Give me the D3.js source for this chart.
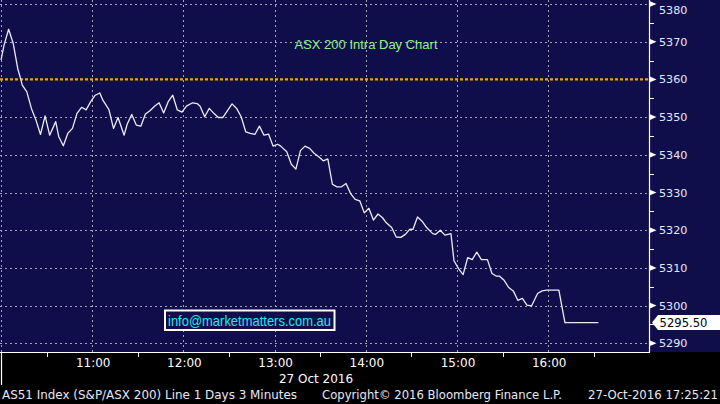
<!DOCTYPE html>
<html><head><meta charset="utf-8">
<script src="https://cdn.jsdelivr.net/npm/d3@7"></script>
<style>
html,body{margin:0;padding:0;background:#000;}
svg{display:block;}
</style></head>
<body>
<svg id="c" width="720" height="404"></svg>
<script>
const times = ["10:00","10:02","10:05","10:08","10:11","10:13","10:14","10:17","10:20","10:23","10:26","10:29","10:32","10:36","10:38","10:41","10:44","10:47","10:50","10:53","10:56","10:59","11:02","11:05","11:07","11:11","11:14","11:17","11:21","11:23","11:26","11:29","11:32","11:35","11:38","11:41","11:44","11:47","11:50","11:53","11:56","11:59","12:02","12:06","12:09","12:11","12:14","12:17","12:20","12:23","12:26","12:29","12:32","12:35","12:38","12:41","12:44","12:47","12:50","12:53","12:56","12:59","13:02","13:04","13:08","13:11","13:14","13:17","13:20","13:23","13:26","13:29","13:32","13:35","13:38","13:41","13:44","13:47","13:50","13:53","13:56","13:59","14:02","14:05","14:08","14:11","14:13","14:17","14:20","14:23","14:26","14:29","14:31","14:34","14:37","14:40","14:44","14:46","14:49","14:52","14:56","14:58","15:01","15:04","15:07","15:10","15:13","15:16","15:20","15:23","15:26","15:28","15:31","15:34","15:37","15:40","15:43","15:46","15:49","15:53","15:56","15:59","16:07","16:11","16:33"];
const values = [5365.1,5369.1,5373.3,5369.6,5362.9,5360.0,5358.5,5356.7,5352.3,5349.2,5345.4,5350.3,5345.2,5348.8,5344.8,5342.4,5345.7,5347.0,5351.0,5352.6,5351.9,5354.1,5355.8,5356.4,5354.5,5352.0,5347.0,5349.9,5345.2,5348.1,5350.7,5347.9,5347.6,5350.8,5351.7,5352.9,5353.8,5351.1,5354.1,5355.8,5351.9,5351.3,5352.9,5353.8,5353.6,5352.9,5350.1,5352.3,5351.0,5349.9,5349.9,5351.7,5353.5,5352.3,5350.1,5346.1,5345.7,5345.4,5347.6,5345.2,5345.5,5342.3,5342.8,5342.3,5340.8,5337.5,5336.2,5341.1,5342.3,5341.7,5340.4,5339.5,5338.4,5338.9,5332.2,5331.5,5331.5,5332.4,5329.7,5328.2,5327.8,5324.6,5325.8,5322.7,5324.3,5323.3,5322.2,5320.7,5318.2,5318.1,5318.9,5320.3,5320.2,5323.5,5322.4,5320.7,5319.1,5318.9,5320.0,5318.7,5319.1,5311.9,5309.8,5308.2,5312.7,5312.2,5314.2,5312.2,5312.2,5308.5,5307.8,5307.8,5306.7,5304.8,5303.9,5301.4,5301.9,5300.1,5299.9,5303.2,5303.9,5304.1,5304.1,5295.5,5295.5];
const yTicks = [5290,5300,5310,5320,5330,5340,5350,5360,5370,5380];
const xTickLabels = ["11:00","12:00","13:00","14:00","15:00","16:00"];
const refLevel = 5360;
const lastPrice = "5295.50";
const titleText = "ASX 200 Intra Day Chart";
const infoText = "info@marketmatters.com.au";
const dateLabel = "27 Oct 2016";
const footerLeft = "AS51 Index (S&P/ASX 200) Line 1 Days 3 Minutes";
const footerMid = "Copyright\u00A9 2016 Bloomberg Finance L.P.";
const footerRight = "27-Oct-2016 17:25:21";

const parse = d3.timeParse("%H:%M");
const data = times.map((t,i)=>({t:parse(t), v:values[i]}));

const svg = d3.select("#c");
const plotW = 649, plotH = 352;
const x = d3.scaleTime().domain([parse("10:00"), new Date(parse("10:00").getTime()+426.3*60000)]).range([1, 649]);
const y = d3.scaleLinear().domain([5290, 5380]).range([343.3, 4]);

svg.append("rect").attr("x",0).attr("y",0).attr("width",720).attr("height",404).attr("fill","#000");
svg.append("rect").attr("x",0).attr("y",0).attr("width",720).attr("height",plotH).attr("fill","#100e4a");

const grid = svg.append("g");
// horizontal gridlines
grid.selectAll("line.h").data(yTicks.filter(v=>v!==refLevel)).join("line")
  .attr("x1",0).attr("x2",plotW)
  .attr("y1",d=>Math.round(y(d))+0.5).attr("y2",d=>Math.round(y(d))+0.5)
  .attr("stroke","#a3a3b0").attr("stroke-width",1).attr("stroke-dasharray","2,3");
// vertical gridlines (hourly)
const hourTimes = ["10:00"].concat(xTickLabels).map(parse);
grid.selectAll("line.v").data(hourTimes).join("line")
  .attr("x1",d=>Math.round(x(d))+0.5).attr("x2",d=>Math.round(x(d))+0.5)
  .attr("y1",0).attr("y2",plotH)
  .attr("stroke","#a3a3b0").attr("stroke-width",1).attr("stroke-dasharray","2,3");

// reference orange dotted line
svg.append("line").attr("x1",0).attr("x2",plotW)
  .attr("y1",y(refLevel)).attr("y2",y(refLevel))
  .attr("stroke","#ff9c00").attr("stroke-width",2.2).attr("stroke-dasharray","3,2");

// title
svg.append("text").attr("x",366).attr("y",49).attr("text-anchor","middle")
  .attr("font-family","Liberation Sans, Arial, sans-serif").attr("font-size",13)
  .attr("fill","#8ff08a").text(titleText);

// price line
svg.append("path").datum(data)
  .attr("d", d3.line().x(d=>x(d.t)).y(d=>y(d.v)))
  .attr("fill","none").attr("stroke","#ecebf5").attr("stroke-width",1.3).attr("stroke-linejoin","round");

// info box
svg.append("rect").attr("x",165).attr("y",310.5).attr("width",169.5).attr("height",19.5)
  .attr("fill","#100e4a").attr("stroke","#ffffff").attr("stroke-width",2);
svg.append("text").attr("x",249.5).attr("y",326).attr("text-anchor","middle")
  .attr("font-family","Liberation Sans, Arial, sans-serif").attr("font-size",14.5)
  .attr("textLength",163).attr("lengthAdjust","spacingAndGlyphs")
  .attr("fill","#1ee8f5").text(infoText);

// axes lines
svg.append("line").attr("x1",649.5).attr("x2",649.5).attr("y1",0).attr("y2",plotH+0.5).attr("stroke","#fff").attr("stroke-width",1.2);
svg.append("line").attr("x1",0).attr("x2",650).attr("y1",plotH+0.5).attr("y2",plotH+0.5).attr("stroke","#fff").attr("stroke-width",1.2);

// right axis major ticks (triangles) and minor ticks
const ra = svg.append("g");
ra.selectAll("path.tri").data(yTicks).join("path")
  .attr("d",d=>{const yy=y(d);return `M650,${yy-2.8}L656.5,${yy}L650,${yy+2.8}Z`;})
  .attr("fill","#fff");
const minor = yTicks.slice(0,-1).map(v=>v+5);
ra.selectAll("line.mn").data(minor).join("line")
  .attr("x1",650).attr("x2",654).attr("y1",d=>Math.round(y(d))+0.5).attr("y2",d=>Math.round(y(d))+0.5)
  .attr("stroke","#fff").attr("stroke-width",1);
ra.selectAll("text").data(yTicks).join("text")
  .attr("x",659).attr("y",d=>Math.max(y(d),9.5)).attr("dy","0.36em")
  .attr("font-family","DejaVu Sans, sans-serif").attr("font-size",11.2)
  .attr("fill","#e4e8ff").text(d=>d);

// last price tag
const ly = y(+lastPrice);
svg.append("path").attr("d",`M652,${ly}L658,${ly-7.5}L720,${ly-7.5}L720,${ly+7.5}L658,${ly+7.5}Z`).attr("fill","#fff");
svg.append("text").attr("x",659.5).attr("y",ly).attr("dy","0.37em")
  .attr("font-family","DejaVu Sans, sans-serif").attr("font-size",11.6)
  .attr("fill","#000").text(lastPrice);

// bottom axis
const ba = svg.append("g");
const halfHours = ["10:30","11:30","12:30","13:30","14:30","15:30","16:30"].map(parse);
ba.selectAll("line.t").data(halfHours).join("line")
  .attr("x1",d=>Math.round(x(d))+0.5).attr("x2",d=>Math.round(x(d))+0.5)
  .attr("y1",plotH).attr("y2",plotH+5).attr("stroke","#fff").attr("stroke-width",1);
ba.append("line").attr("x1",1.5).attr("x2",1.5).attr("y1",plotH).attr("y2",385).attr("stroke","#fff").attr("stroke-width",1.2);
ba.selectAll("text").data(xTickLabels).join("text")
  .attr("x",d=>x(parse(d))+1).attr("y",367).attr("text-anchor","middle")
  .attr("font-family","DejaVu Sans, sans-serif").attr("font-size",12)
  .attr("fill","#ffffff").text(d=>d);
ba.append("text").attr("x",316).attr("y",383).attr("text-anchor","middle")
  .attr("font-family","DejaVu Sans, sans-serif").attr("font-size",12)
  .attr("fill","#ffffff").text(dateLabel);

// footer
const ft = svg.append("g").attr("font-family","DejaVu Sans, sans-serif").attr("font-size",11.5).attr("fill","#e6e8f5");
ft.append("text").attr("x",2).attr("y",399).attr("textLength",295).attr("lengthAdjust","spacingAndGlyphs").text(footerLeft);
ft.append("text").attr("x",322).attr("y",399).attr("textLength",240).attr("lengthAdjust","spacingAndGlyphs").text(footerMid);
ft.append("text").attr("x",588).attr("y",399).attr("textLength",130).attr("lengthAdjust","spacingAndGlyphs").text(footerRight);
</script>
</body></html>
